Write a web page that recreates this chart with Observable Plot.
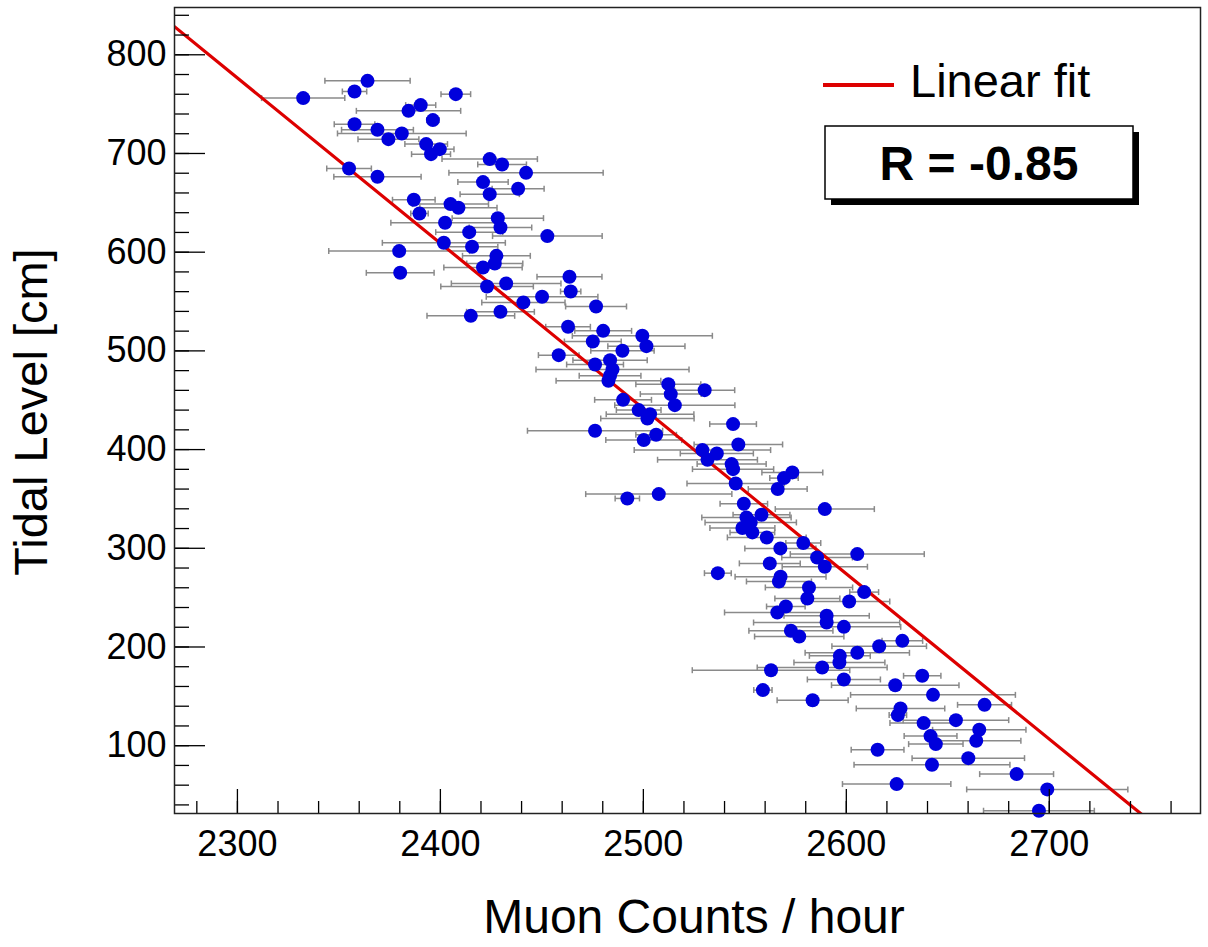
<!DOCTYPE html>
<html><head><meta charset="utf-8">
<script src="https://cdn.jsdelivr.net/npm/d3@7"></script>
<script src="https://cdn.jsdelivr.net/npm/@observablehq/plot@0.6"></script>
<style>
body{margin:0;background:#fff;}
#chart{position:relative;width:1208px;height:947px;}
</style>
</head><body><div id="chart"></div>
<script>
// ---- data ----
const muonCounts = [
2364.1,2357.7,2332.4,2407.6,2390.3,2384.3,2396.3,2357.7,2369.0,2381.0,
2374.4,2393.0,2399.7,2395.4,2424.3,2430.4,2355.0,2442.2,2369.0,2421.0,
2438.3,2424.3,2386.9,2405.0,2408.9,2428.3,2389.7,2402.3,2429.6,2414.2,
2452.7,2401.7,2415.6,2379.7,2427.6,2426.8,2421.0,2380.2,2463.6,2432.4,
2423.0,2464.2,2450.1,2440.9,2476.7,2429.6,2415.0,2462.9,2480.2,2499.5,
2475.1,2501.5,2489.7,2458.3,2483.6,2476.2,2484.8,2483.6,2482.8,2512.3,
2530.2,2513.5,2490.0,2515.5,2497.7,2503.3,2502.0,2544.2,2476.2,2506.3,
2500.2,2546.8,2529.1,2536.2,2531.6,2543.5,2544.2,2573.4,2569.3,2545.5,
2566.2,2507.6,2492.1,2549.5,2589.4,2558.2,2550.8,2552.9,2548.8,2553.7,
2560.8,2578.8,2567.5,2605.4,2585.6,2562.3,2589.4,2536.7,2567.6,2566.8,
2581.6,2608.8,2580.8,2601.4,2570.2,2566.0,2590.3,2590.3,2598.8,2572.7,
2576.8,2627.6,2616.2,2605.4,2596.8,2596.6,2588.1,2562.9,2637.4,2598.8,
2624.1,2558.9,2642.7,2583.4,2668.1,2626.7,2625.4,2654.0,2638.1,2665.5,
2641.5,2664.0,2644.1,2615.4,2660.1,2642.2,2683.9,2624.8,2699.0,2694.9
];
const tidalLevel = [
773.6,762.8,756.1,760.1,749.0,743.2,733.8,729.7,724.0,720.3,
714.5,709.5,704.4,699.3,694.3,688.9,684.8,680.4,676.4,671.0,
664.2,658.8,653.1,648.7,645.0,634.5,639.2,629.8,625.0,620.3,
616.3,609.5,605.5,601.1,596.3,588.6,584.5,579.1,575.1,568.3,
565.3,560.2,554.8,549.1,545.0,539.6,535.5,524.4,520.3,515.3,
509.5,504.8,500.1,495.7,490.6,486.2,481.2,474.8,469.7,466.3,
460.2,456.2,450.4,445.0,440.0,435.9,431.5,425.8,419.1,415.0,
409.6,405.2,399.5,396.1,389.7,385.3,380.2,376.9,371.1,365.7,
360.0,354.9,350.5,345.1,339.7,334.0,331.3,326.2,320.5,316.1,
311.0,305.3,299.9,294.1,290.7,284.7,281.3,274.8,271.1,266.4,
260.3,255.6,249.1,246.1,241.0,235.0,231.6,224.8,220.4,216.4,
210.6,206.2,200.8,194.1,191.0,184.3,179.2,176.5,170.8,167.1,
161.3,156.3,151.5,146.1,141.4,137.7,131.0,125.9,122.9,116.1,
109.7,105.0,101.6,95.9,87.4,80.7,71.2,61.1,55.7,34.1
];
const countError = [
21,6,20.5,7.3,7.4,25.7,3,10,17.7,31.7,
15,10.5,7,9.6,23.5,12,11,38,21.5,12.4,
12.8,14.6,10.5,18.7,19,22.5,4.3,26.7,15.4,16.5,
27,30.3,12.7,34.7,16.7,13.8,19.3,16.7,16,27,
22.8,5,27.5,20.5,15,16.7,21.6,11,14,34.5,
14,19,15.6,10,18.3,14,37.7,15.2,25.8,16,
14.8,15,14,29.6,11,21.6,23,11.5,33.3,10,
18.7,21.8,33.6,18,24.6,17,20,15,7,24,
14.5,36,6,11.7,24.4,14,22,22.5,16,11,
19.4,8.6,17.5,33,17.4,15,21,6.6,22.4,16,
21.5,7.1,16,20,9.5,26,21,36,28,20.7,
22,10,23.3,25.7,15,22.4,32,38.8,9.2,18,
31.4,4.5,40.6,17.5,13.3,21.8,4.3,26,16.6,23,
13,22,13.4,13,27.7,38.4,18.2,26.7,39.7,27.3
];
const fitSlope = -1.6746;
const fitIntercept = 4628.1;
const xMajorTicks = [2300, 2400, 2500, 2600, 2700];
const yMajorTicks = [100, 200, 300, 400, 500, 600, 700, 800];
const xTitle = "Muon Counts / hour";
const yTitle = "Tidal Level [cm]";
const fitLabel = "Linear fit";
const corrLabel = "R = -0.85";

// ---- build ----
const points = muonCounts.map((x, i) => ({x, y: tidalLevel[i], e: countError[i]}));
const xDomain = [2269, 2774.5];
const yDomain = [31.3, 847.9];
const fitLine = xDomain.map(x => ({x, y: fitIntercept + fitSlope * x}));
const xMinorTicks = d3.range(2280, 2775, 20);
const yMinorTicks = d3.range(40, 848, 20);

const W = 1208, H = 947;
const mL = 174, mR = 8, mT = 7, mB = 134;
const plotW = W - mL - mR, plotH = H - mT - mB;
const font = "'Liberation Sans', Arial, Helvetica, sans-serif";

const capSymbol = {draw(ctx, size) { const h = Math.sqrt(size / Math.PI); ctx.moveTo(0, -h); ctx.lineTo(0, h); }};

const chart = Plot.plot({
  width: W, height: H,
  marginLeft: mL, marginRight: mR, marginTop: mT, marginBottom: mB,
  style: {fontFamily: font, fontSize: "36px", color: "#000", background: "#fff"},
  x: {domain: xDomain, ticks: xMajorTicks, tickSize: 0, tickPadding: 17, label: null, tickFormat: d => String(d)},
  y: {domain: yDomain, ticks: yMajorTicks, tickSize: 0, tickPadding: 8, label: null, tickFormat: d => String(d)},
  marks: [
    Plot.link(points, {x1: d => d.x - d.e, x2: d => d.x + d.e, y1: "y", y2: "y", stroke: "#8a8a8a", strokeWidth: 1.5}),
    Plot.dot(points, {x: d => d.x - d.e, y: "y", symbol: capSymbol, r: 3, stroke: "#8a8a8a", fill: "none", strokeWidth: 1.5}),
    Plot.dot(points, {x: d => d.x + d.e, y: "y", symbol: capSymbol, r: 3, stroke: "#8a8a8a", fill: "none", strokeWidth: 1.5}),
    Plot.line(fitLine, {x: "x", y: "y", stroke: "#dd0000", strokeWidth: 3.2, clip: true}),
    Plot.dot(points, {x: "x", y: "y", r: 7, fill: "#0000dc", stroke: "none"}),
    Plot.tickX(xMinorTicks, {x: d => d, insetTop: plotH - 12, stroke: "#000", strokeWidth: 1.3}),
    Plot.tickX(xMajorTicks, {x: d => d, insetTop: plotH - 24, stroke: "#000", strokeWidth: 1.3}),
    Plot.tickY(yMinorTicks, {y: d => d, insetRight: plotW - 15, stroke: "#000", strokeWidth: 1.3}),
    Plot.tickY(yMajorTicks, {y: d => d, insetRight: plotW - 31, stroke: "#000", strokeWidth: 1.3}),
    Plot.frame({stroke: "#222", strokeWidth: 1.5})
  ]
});
document.getElementById("chart").appendChild(chart);

// ---- titles and legend drawn into the same svg ----
const svg = d3.select(chart);
svg.append("text").attr("x", 694).attr("y", 933).attr("text-anchor", "middle")
  .attr("font-family", font).attr("font-size", 48).attr("fill", "#000").text(xTitle);
svg.append("text").attr("transform", "translate(47,412) rotate(-90)").attr("text-anchor", "middle")
  .attr("font-family", font).attr("font-size", 47).attr("fill", "#000").text(yTitle);

const leg = svg.append("g");
leg.append("line").attr("x1", 823).attr("x2", 894).attr("y1", 85).attr("y2", 85)
  .attr("stroke", "#dd0000").attr("stroke-width", 4);
leg.append("text").attr("x", 910).attr("y", 97).attr("text-anchor", "start").attr("font-family", font).attr("font-size", 47)
  .attr("fill", "#000").text(fitLabel);
leg.append("rect").attr("x", 831).attr("y", 132).attr("width", 308).attr("height", 73).attr("fill", "#000");
leg.append("rect").attr("x", 825).attr("y", 126).attr("width", 308).attr("height", 73)
  .attr("fill", "#fff").attr("stroke", "#000").attr("stroke-width", 1.5);
leg.append("text").attr("x", 979).attr("y", 180).attr("text-anchor", "middle").attr("font-family", font)
  .attr("font-size", 48).attr("font-weight", "bold").attr("fill", "#000").text(corrLabel);
</script>
</body></html>
